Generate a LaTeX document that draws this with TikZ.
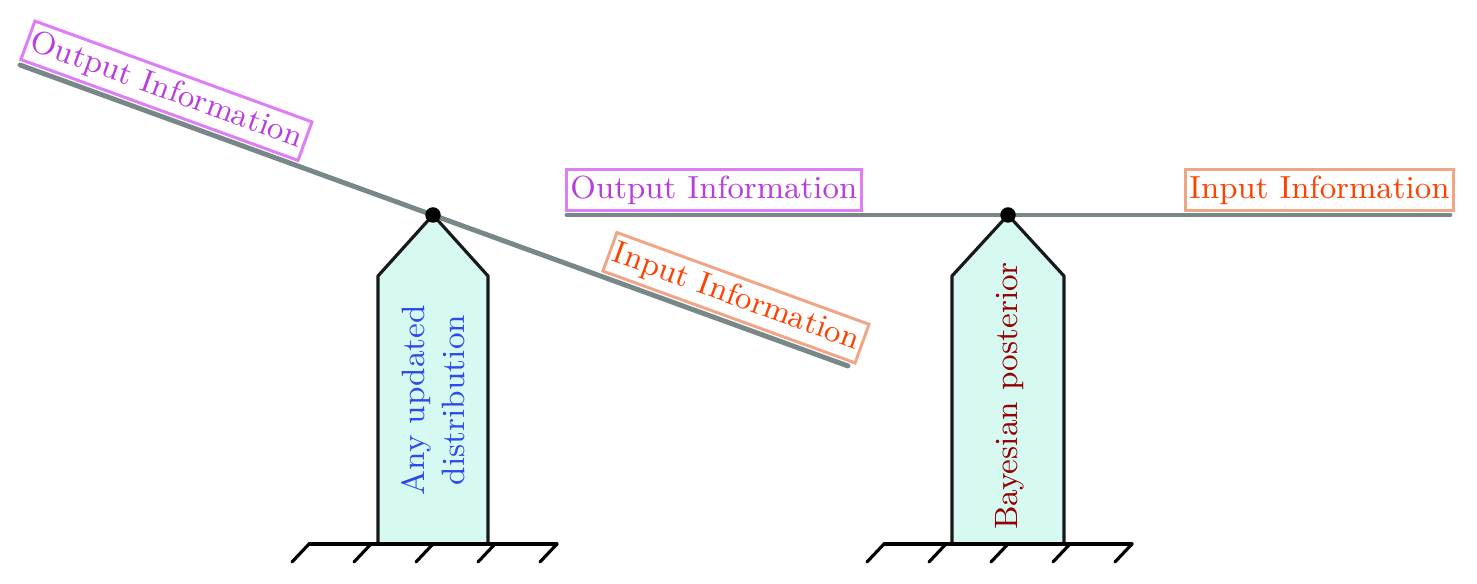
\documentclass[tikz,border=0pt]{standalone}
\usepackage{tkz-euclide}
\usetikzlibrary{calc}
\definecolor{BeamClr}{RGB}{120,135,135}
\definecolor{PillarClr}{RGB}{214,250,242}
\definecolor{OutClr}{RGB}{185,60,225}
\definecolor{OutBoxClr}{RGB}{222,125,246}
\definecolor{InClr}{RGB}{255,65,0}
\definecolor{InBoxClr}{RGB}{240,165,135}
\definecolor{AnyClr}{RGB}{45,75,235}
\definecolor{BayesClr}{RGB}{150,0,0}

\tikzset{
  infobox/.style={draw,line width=0.85pt,fill=white,inner xsep=0.04cm,inner ysep=0pt,
    minimum height=0.41cm,font=\fontsize{9.1}{11}\selectfont},
  outbox/.style={infobox,draw=OutBoxClr,text=OutClr},
  inbox/.style={infobox,draw=InBoxClr,text=InClr},
  pillartext/.style={rotate=90,align=center,font=\fontsize{9.2}{11.2}\selectfont}
}

\begin{document}
\begin{tikzpicture}
\useasboundingbox (0,0) rectangle (14.77,5.84);
\tkzSetUpLine[line width=0.9pt,color=black]
\tkzSetUpPoint[fill=black]

% left balance (tilted)
\tkzDefPoints{4.33/3.69/P1,0.20/5.19/L1,8.48/2.18/R1}
\tkzDefPoints{3.78/3.08/A1,4.88/3.08/B1,4.88/0.40/C1,3.78/0.40/D1}
\tkzDefPoints{3.09/0.40/G1,5.57/0.40/H1}
\tkzDefPoints{3.09/0.40/Ta,3.71/0.40/Tb,4.33/0.40/Tc,4.95/0.40/Td,5.57/0.40/Te}
\tkzDefPoints{2.92/0.22/Ba,3.54/0.22/Bb,4.16/0.22/Bc,4.78/0.22/Bd,5.40/0.22/Be}

% right balance (level)
\tkzDefPoints{10.08/3.69/P2,5.67/3.69/L2,14.50/3.69/R2}
\tkzDefPoints{9.52/3.08/A2,10.64/3.08/B2,10.64/0.40/C2,9.52/0.40/D2}
\tkzDefPoints{8.84/0.40/G2,11.32/0.40/H2}
\tkzDefPoints{8.84/0.40/Tf,9.46/0.40/Tg,10.08/0.40/Th,10.70/0.40/Ti,11.32/0.40/Tj}
\tkzDefPoints{8.67/0.22/Bf,9.29/0.22/Bg,9.91/0.22/Bh,10.53/0.22/Bi,11.15/0.22/Bj}

\tkzFillPolygon[fill=PillarClr](P1,B1,C1,D1,A1)
\tkzFillPolygon[fill=PillarClr](P2,B2,C2,D2,A2)
\tkzDrawPolygon[line width=0.9pt,color=black!90](P1,B1,C1,D1,A1)
\tkzDrawPolygon[line width=0.9pt,color=black!90](P2,B2,C2,D2,A2)

\tkzDrawSegments[line width=0.9pt,color=black](G1,H1 G2,H2)
\tkzDrawSegments[line width=0.9pt,color=black](Ta,Ba Tb,Bb Tc,Bc Td,Bd Te,Be)
\tkzDrawSegments[line width=0.9pt,color=black](Tf,Bf Tg,Bg Th,Bh Ti,Bi Tj,Bj)

\tkzDrawSegments[line width=1.4pt,color=BeamClr,line cap=round](L1,R1 L2,R2)
\tkzDrawPoints[size=4](P1,P2)

\node[outbox,rotate=-20,anchor=south west] (outtilt) at (0.19,5.235) {Output Information};
\node[inbox,rotate=-20,anchor=south west] (intilt) at (6.01,3.12) {Input Information};
\node[outbox,anchor=south west] (outlevel) at (5.65,3.72) {Output Information};
\node[inbox,anchor=south east] (inlevel) at (14.55,3.72) {Input Information};

\node[pillartext,text=AnyClr] (anytext) at (4.33,1.84) {Any updated\\distribution};
\node[pillartext,text=BayesClr] (bayestext) at (10.10,1.88) {Bayesian posterior};

\end{tikzpicture}
\end{document}
